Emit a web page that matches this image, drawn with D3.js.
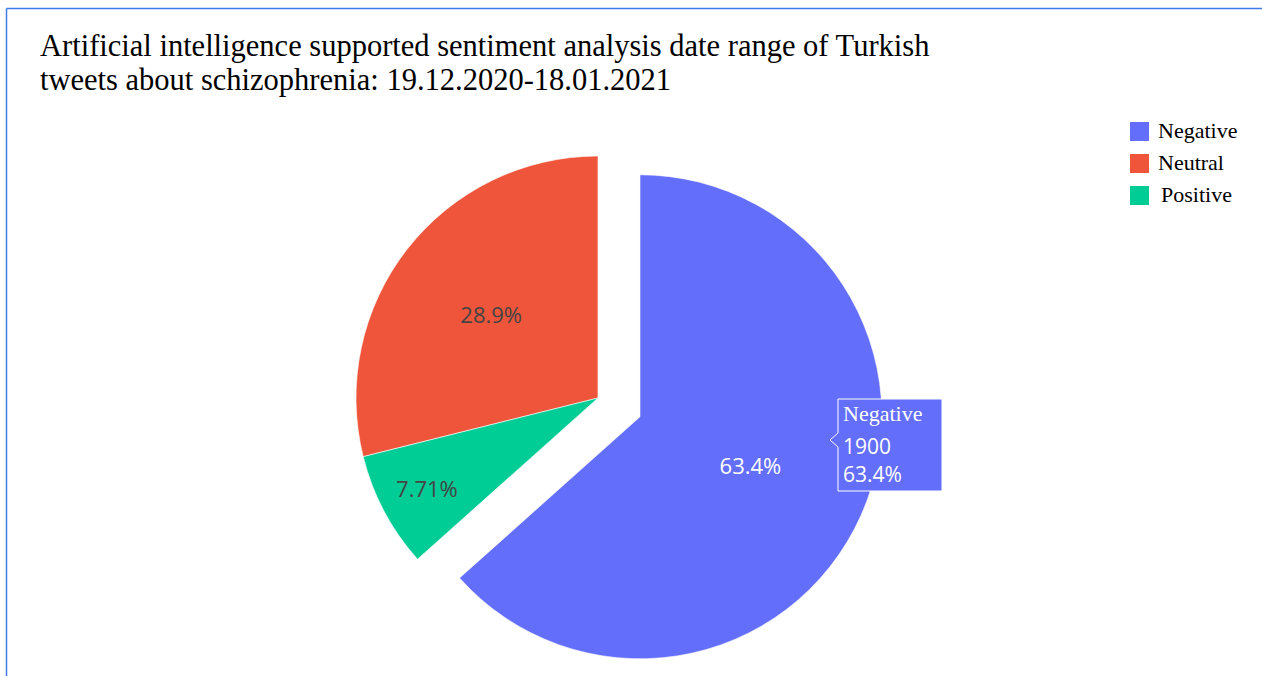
<!DOCTYPE html>
<html>
<head>
<meta charset="utf-8">
<script src="https://cdn.jsdelivr.net/npm/d3@7"></script>
<style>
  html, body { margin: 0; padding: 0; background: #fff; }
  svg { display: block; }
</style>
</head>
<body>
<div id="container"></div>
<script>
const categories = ["Negative", "Neutral", "Positive"];
const counts = [1900, 866, 231];
const colors = ["#636efa", "#ef553b", "#00cc96"];
// order slices are laid clockwise from 12 o'clock
const sliceOrder = ["Negative", "Positive", "Neutral"];
const pulled = ["Negative"];
const titleLines = [
  "Artificial intelligence supported sentiment analysis date range of Turkish",
  "tweets about schizophrenia: 19.12.2020-18.01.2021"
];

const w = 1262;
const h = 676;
const cx = 598;
const cy = 398;
const r = 242;
const pullDist = 46;

const data = categories.map((c, i) => ({ name: c, value: counts[i], color: colors[i] }));
const total = d3.sum(counts);
const pct = (v) => d3.format(".3~")(v / total * 100) + "%";

const svg = d3
  .select("#container")
  .append("svg")
  .attr("width", w)
  .attr("height", h);

// frame lines (top and left)
svg.append("line")
  .attr("x1", 6.5).attr("y1", 8.5).attr("x2", w).attr("y2", 8.5)
  .attr("stroke", "#3f7be8").attr("stroke-width", 1.5);
svg.append("line")
  .attr("x1", 6.5).attr("y1", 8.5).attr("x2", 6.5).attr("y2", h)
  .attr("stroke", "#3f7be8").attr("stroke-width", 1.5);

// title
svg.append("text")
  .attr("x", 40)
  .attr("y", 56)
  .style("font-family", "'Liberation Serif', 'Times New Roman', serif")
  .style("font-size", "30.5px")
  .attr("fill", "#000")
  .selectAll("tspan")
  .data(titleLines)
  .enter()
  .append("tspan")
  .attr("x", 40)
  .attr("dy", (d, i) => (i === 0 ? 0 : 34))
  .text((d) => d);

const pie = d3
  .pie()
  .value((d) => d.value)
  .sort((a, b) => sliceOrder.indexOf(a.name) - sliceOrder.indexOf(b.name));

const arc = d3.arc().innerRadius(0).outerRadius(r);
const arcs = pie(data);

const slices = svg
  .append("g")
  .attr("transform", `translate(${cx},${cy})`)
  .selectAll("g")
  .data(arcs)
  .enter()
  .append("g")
  .attr("transform", (d) => {
    if (!pulled.includes(d.data.name)) return null;
    const mid = (d.startAngle + d.endAngle) / 2;
    return `translate(${Math.sin(mid) * pullDist},${-Math.cos(mid) * pullDist})`;
  });

slices
  .append("path")
  .attr("d", arc)
  .attr("fill", (d) => d.data.color)
  .attr("stroke", "#fff")
  .attr("stroke-width", 0.6);

slices
  .append("text")
  .attr("transform", (d) => {
    const mid = (d.startAngle + d.endAngle) / 2;
    const span = d.endAngle - d.startAngle;
    const f = span < 0.8 ? 0.8 : span < Math.PI ? 0.56 : 0.5;
    return `translate(${Math.sin(mid) * r * f},${-Math.cos(mid) * r * f})`;
  })
  .attr("text-anchor", "middle")
  .attr("dy", "0.36em")
  .style("font-family", "'Open Sans', Verdana, Arial, sans-serif")
  .style("font-size", "22px")
  .attr("fill", (d) => (d.data.name === "Negative" ? "#fff" : "#444"))
  .text((d) => pct(d.data.value));

// hover label on Negative
const neg = data[0];
const tip = svg.append("g").attr("transform", "translate(838,399)");
tip.append("path")
  .attr("d", "M0,0 H104 V92 H0 V48 L-8,41 L0,34 Z")
  .attr("fill", neg.color)
  .attr("stroke", "#fff")
  .attr("stroke-width", 1);
tip.append("text")
  .attr("x", 5).attr("y", 22)
  .style("font-family", "'Liberation Serif', 'Times New Roman', serif")
  .style("font-size", "22px")
  .attr("fill", "#fff")
  .text(neg.name);
tip.append("text")
  .attr("x", 5).attr("y", 55)
  .style("font-family", "'Open Sans', Verdana, Arial, sans-serif")
  .style("font-size", "21px")
  .attr("fill", "#fff")
  .text(neg.value);
tip.append("text")
  .attr("x", 5).attr("y", 83)
  .style("font-family", "'Open Sans', Verdana, Arial, sans-serif")
  .style("font-size", "21px")
  .attr("fill", "#fff")
  .text(pct(neg.value));

// legend
const legend = svg
  .append("g")
  .attr("transform", "translate(1130,122)")
  .selectAll("g")
  .data(data)
  .enter()
  .append("g")
  .attr("transform", (d, i) => `translate(0,${i * 32})`);

legend.append("rect")
  .attr("width", 19)
  .attr("height", 19)
  .attr("fill", (d) => d.color);

legend.append("text")
  .attr("x", (d) => (d.name === "Positive" ? 31 : 28))
  .attr("y", 16)
  .style("font-family", "'Liberation Serif', 'Times New Roman', serif")
  .style("font-size", "22px")
  .attr("fill", "#000")
  .text((d) => d.name);
</script>
</body>
</html>
